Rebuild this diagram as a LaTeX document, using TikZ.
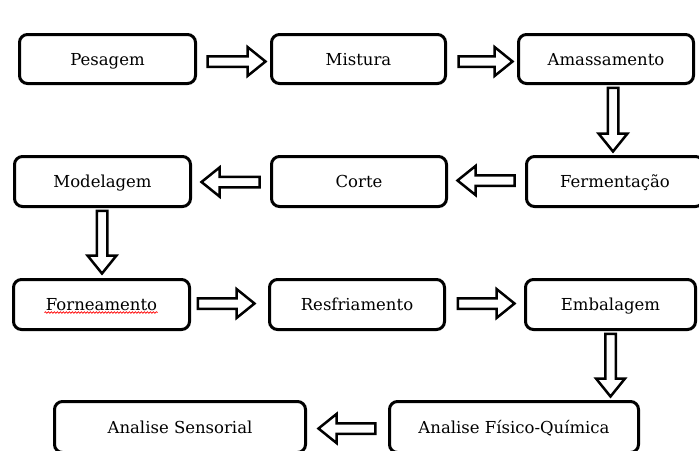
\documentclass[tikz,border=0pt]{standalone}
\usepackage{fontspec}
\setmainfont{DejaVu Serif}
\usetikzlibrary{calc,decorations.pathmorphing}

\tikzset{
  stepbox/.style={draw=black, line width=3pt, rounded corners=8pt, inner sep=0pt,
    minimum height=50pt, font=\fontsize{16.5}{18}\selectfont, text height=12pt, text depth=0pt},
  flowarrow/.style={draw=black, line width=2.5pt, fill=white, line join=miter}
}
% hollow block arrow from #1 (tail) to #2 (tip)
\newcommand{\blockarrow}[2]{%
  \coordinate (fs) at #1;
  \coordinate (ft) at #2;
  \coordinate (fh) at ($(ft)!18pt!(fs)$);
  \draw[flowarrow] ($(fs)!5.25pt!90:(ft)$) -- ($(fh)!5.25pt!90:(ft)$) -- ($(fh)!14.5pt!90:(ft)$)
    -- (ft) -- ($(fh)!14.5pt!-90:(ft)$) -- ($(fh)!5.25pt!-90:(ft)$) -- ($(fs)!5.25pt!-90:(ft)$) -- cycle;
}

\begin{document}
\begin{tikzpicture}[x=1pt, y=-1pt]
    \useasboundingbox (0,0) rectangle (699,450);

    %steps
    \node[stepbox, minimum width=176pt, minimum height=49pt] (pesagem) at (107.5,59) {Pesagem};
    \node[stepbox, minimum width=174pt, minimum height=49pt] (mistura) at (358.5,59) {Mistura};
    \node[stepbox, minimum width=175pt, minimum height=49pt] (amassamento) at (606,59) {Amassamento};
    \node[stepbox, minimum width=176pt] (modelagem) at (102.5,181.5) {Modelagem};
    \node[stepbox, minimum width=175pt] (corte) at (359,181.5) {Corte};
    \node[stepbox, minimum width=177pt] (fermentacao) at (615,181.5) {Fermentação};
    \node[stepbox, minimum width=176pt] (forneamento) at (101.5,304.5) {Forneamento};
    \node[stepbox, minimum width=175pt] (resfriamento) at (357,304.5) {Resfriamento};
    \node[stepbox, minimum width=170pt] (embalagem) at (610.5,304.5) {Embalagem};
    \node[stepbox, minimum width=251pt, minimum height=51pt] (sensorial) at (180,427) {Analise Sensorial};
    \node[stepbox, minimum width=249pt, minimum height=51pt] (fisicoquimica) at (514,427) {Analise Físico-Química};

    %spelling mark
    \draw[red, line width=0.7pt, decorate, decoration={snake, amplitude=0.8pt, segment length=3pt}]
      ($(forneamento.center)+(-57,8)$) -- ($(forneamento.center)+(56,8)$);

    %arrows
    \blockarrow{($(pesagem.east)+(10.5,2.5)$)}{($(mistura.west)+(-4.5,2.5)$)}
    \blockarrow{($(mistura.east)+(11.5,2.5)$)}{($(amassamento.west)+(-4.5,2.5)$)}
    \blockarrow{($(amassamento.south)+(7,2.75)$)}{($(fermentacao.north)+(-2,-3.5)$)}
    \blockarrow{($(fermentacao.west)+(-10.5,-1)$)}{($(corte.east)+(9.5,-1)$)}
    \blockarrow{($(corte.west)+(-10.5,0.5)$)}{($(modelagem.east)+(9.5,0.5)$)}
    \blockarrow{($(modelagem.south)+(-0.5,2.75)$)}{($(forneamento.north)+(0.5,-4.5)$)}
    \blockarrow{($(forneamento.east)+(6.75,-1)$)}{($(resfriamento.west)+(-13.5,-1)$)}
    \blockarrow{($(resfriamento.east)+(11.75,-1)$)}{($(embalagem.west)+(-9.5,-1)$)}
    \blockarrow{($(embalagem.south)+(0,2.75)$)}{($(fisicoquimica.north)+(96.5,-3.5)$)}
    \blockarrow{($(fisicoquimica.west)+(-12.75,1.5)$)}{($(sensorial.east)+(11.5,1.5)$)}

\end{tikzpicture}
\end{document}
